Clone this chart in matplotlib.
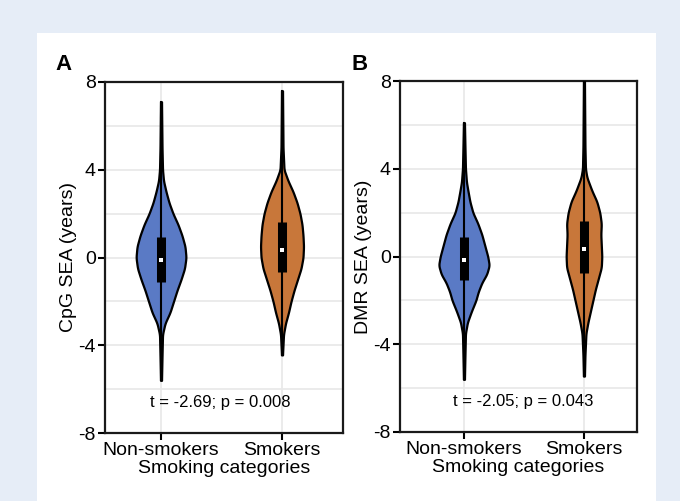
import numpy as np
import matplotlib
matplotlib.use("Agg")
import matplotlib.pyplot as plt
from matplotlib.patches import Rectangle

plt.rcParams["font.family"] = ["Liberation Sans", "DejaVu Sans"]
plt.rcParams["axes.unicode_minus"] = False

categories = ["Non-smokers", "Smokers"]

# violin outlines: y value -> relative density (half width)
cpg_non_y = [7.1, 5.0, 4.0, 3.5, 3.0, 2.5, 2.0, 1.5, 1.0, 0.5, 0.0, -0.5, -1.0, -1.5, -2.0, -2.5, -3.0, -3.5, -4.5, -5.6]
cpg_non_d = [0.5, 1, 1.5, 2.5, 5, 8, 12, 17, 21, 24, 25, 23.5, 20, 16, 12.5, 9, 4, 1.5, 1, 0.5]
cpg_smk_y = [7.6, 5.0, 4.0, 3.5, 3.0, 2.5, 2.0, 1.5, 1.0, 0.5, 0.0, -0.5, -1.0, -1.5, -2.0, -2.5, -3.0, -3.5, -4.44]
cpg_smk_d = [0.5, 1, 2, 6, 11, 15, 18, 20, 21, 21.5, 21, 19, 15.5, 12, 9, 6.5, 3.5, 1.5, 0.5]
dmr_non_y = [6.1, 5.0, 4.0, 3.4, 3.0, 2.5, 2.0, 1.5, 1.0, 0.5, 0.0, -0.4, -0.8, -1.2, -1.6, -2.0, -2.5, -3.0, -3.5, -4.5, -5.6]
dmr_non_d = [0.5, 1, 1.5, 2.5, 4, 6, 9, 14, 18, 21, 24, 25.5, 23, 18, 14.5, 12, 7.5, 3.5, 1.5, 1, 0.5]
dmr_smk_y = [8.0, 5.0, 4.0, 3.6, 3.0, 2.5, 2.0, 1.5, 1.0, 0.5, 0.0, -0.5, -1.0, -1.5, -2.0, -2.5, -3.0, -3.5, -4.5, -5.45]
dmr_smk_d = [0.5, 1, 1.5, 3, 8, 13, 16, 17.5, 17, 17.5, 18, 17.5, 14.5, 11.5, 9, 6.5, 4, 2, 1, 0.5]

# box stats (q1, median, q3)
cpg_box = [(-1.10, -0.10, 0.95), (-0.65, 0.35, 1.63)]
dmr_box = [(-1.05, -0.17, 0.90), (-0.74, 0.36, 1.61)]

stats_text = ["t = -2.69; p = 0.008", "t = -2.05; p = 0.043"]
ylabels = ["CpG SEA (years)", "DMR SEA (years)"]
panel_letters = ["A", "B"]

colors = ["#5a7ac5", "#c8773a"]
grid_color = "#e9e9e9"


def smooth_outline(ys, ds):
    ys = np.array(ys, dtype=float)
    ds = np.array(ds, dtype=float)
    order = np.argsort(ys)
    yy = np.linspace(ys.min(), ys.max(), 400)
    dd = np.interp(yy, ys[order], ds[order])
    k = np.ones(9) / 9
    pad = np.pad(dd, 4, mode="edge")
    dd = np.convolve(pad, k, mode="valid")
    return yy, dd


def draw_violin(ax, pos, ys, ds, box, color, scale=1 / 121):
    yy, dd = smooth_outline(ys, ds)
    ax.fill_betweenx(yy, pos - dd * scale, pos + dd * scale, facecolor=color,
                     edgecolor="black", linewidth=1.6, zorder=3)
    ax.plot([pos, pos], [min(ys), max(ys)], color="black", linewidth=1.5, zorder=4)
    q1, med, q3 = box
    ax.plot([pos, pos], [q1, q3], color="black", linewidth=6.5, solid_capstyle="butt", zorder=5)
    ax.plot(pos, med, marker="s", markersize=2.5, color="white", markeredgewidth=0, zorder=6)


def setup_axes(ax, ylabel, xlim):
    ax.set_xlim(*xlim)
    ax.set_ylim(-8, 8)
    ax.set_yticks([-8, -4, 0, 4, 8])
    ax.set_yticks([-6, -2, 2, 6], minor=True)
    ax.set_xticks([1, 2])
    ax.set_xticklabels(categories)
    ax.grid(True, which="both", color=grid_color, linewidth=1.3, zorder=0)
    ax.set_axisbelow(True)
    ax.tick_params(which="major", direction="out", length=5, width=1.5, labelsize=14, pad=1.5, color="black")
    ax.tick_params(which="minor", length=0)
    for s in ax.spines.values():
        s.set_linewidth(1.6)
        s.set_color("#1a1a1a")
    ax.set_ylabel(ylabel, fontsize=14, labelpad=1)
    ax.set_xlabel("Smoking categories", fontsize=14, labelpad=0.5)


fig = plt.figure(figsize=(6.8, 5.01), dpi=100)
fig.patch.set_facecolor("#e6edf7")
fig.add_artist(Rectangle((37 / 680, 0), (656 - 37) / 680, (501 - 33) / 501,
                         transform=fig.transFigure, facecolor="white", edgecolor="none", zorder=0))

axA = fig.add_axes([105 / 680, 68 / 501, 238 / 680, 351 / 501])
axB = fig.add_axes([400 / 680, 69 / 501, 237 / 680, 351 / 501])

setup_axes(axA, ylabels[0], (0.537, 2.504))
setup_axes(axB, ylabels[1], (0.467, 2.442))

draw_violin(axA, 1, cpg_non_y, cpg_non_d, cpg_box[0], colors[0])
draw_violin(axA, 2, cpg_smk_y, cpg_smk_d, cpg_box[1], colors[1])
draw_violin(axB, 1, dmr_non_y, dmr_non_d, dmr_box[0], colors[0])
draw_violin(axB, 2, dmr_smk_y, dmr_smk_d, dmr_box[1], colors[1])

axA.text(1.49, -6.6, stats_text[0], ha="center", va="center", fontsize=12, zorder=7)
axB.text(1.49, -6.6, stats_text[1], ha="center", va="center", fontsize=12, zorder=7)

fig.text(64 / 680, 1 - 65 / 501, panel_letters[0], fontsize=16, fontweight="bold", ha="center", va="center")
fig.text(360 / 680, 1 - 65 / 501, panel_letters[1], fontsize=16, fontweight="bold", ha="center", va="center")

fig.savefig("out.png", dpi=100, facecolor=fig.get_facecolor())
